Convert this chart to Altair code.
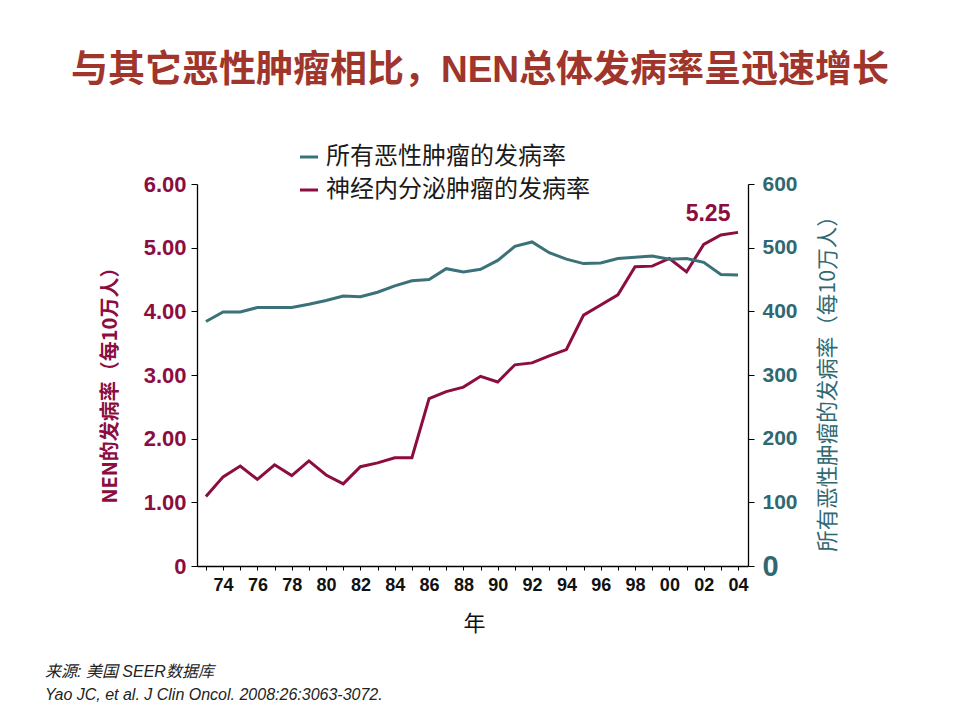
import altair as alt
import pandas as pd

years = list(range(1973, 2005))
nen_rate = [1.09, 1.40, 1.57, 1.36, 1.59, 1.42, 1.65, 1.43, 1.29, 1.56, 1.62, 1.70, 1.70,
            2.63, 2.74, 2.81, 2.98, 2.89, 3.16, 3.19, 3.30, 3.40, 3.94, 4.10, 4.26, 4.70,
            4.71, 4.83, 4.62, 5.05, 5.20, 5.24]
all_rate = [384, 399, 399, 406, 406, 406, 411, 417, 424, 423, 430, 440, 448, 450, 467, 462,
            466, 480, 502, 509, 492, 482, 475, 476, 483, 485, 487, 482, 483, 477, 458, 457]
series_names = ["所有恶性肿瘤的发病率", "神经内分泌肿瘤的发病率"]
annotation = ["5.25"]
title_text = "与其它恶性肿瘤相比，NEN总体发病率呈迅速增长"
x_title = "年"
left_title = "NEN的发病率（每10万人）"
right_title = "所有恶性肿瘤的发病率（每10万人）"
footnotes = ["来源: 美国 SEER数据库", "Yao JC, et al. J Clin Oncol. 2008:26:3063-3072."]

RED = "#8C0D3F"
TEAL = "#3B7279"
TEAL_LBL = "#2F6871"
TITLE_C = "#A0352B"
FONT = "Liberation Sans, Noto Sans CJK SC, sans-serif"
CJK = "Noto Sans CJK SC, Liberation Sans, sans-serif"

df = pd.DataFrame({"year": years, "nen": nen_rate, "all": all_rate})
df_last = pd.DataFrame({"year": [years[-1]], "nen": [nen_rate[-1]], "label": annotation})

xscale = alt.Scale(domain=[1972.48, 2004.58], nice=False, zero=False)
xaxis = alt.Axis(
    values=years,
    labelExpr="datum.value % 2 == 0 ? substring(toString(datum.value), 2, 4) : ''",
    title=x_title, titleFont=CJK, titleFontSize=22, titleFontWeight="normal", titleColor="#111",
    titleX=277, titleY=57, titleBaseline="middle", titleAlign="center",
    labelFont=FONT, labelFontSize=18, labelFontWeight="bold", labelColor="#111",
    labelPadding=6, tickSize=4, tickColor="#000", domainColor="#000", domainWidth=1.3,
    grid=False, labelOverlap=False, labelFlush=False,
)

red_line = alt.Chart(df).mark_line(color=RED, strokeWidth=3).encode(
    x=alt.X("year:Q", scale=xscale, axis=xaxis),
    y=alt.Y("nen:Q", scale=alt.Scale(domain=[0, 6], nice=False),
            axis=alt.Axis(
                orient="left", values=[0, 1, 2, 3, 4, 5, 6],
                labelExpr="datum.value == 0 ? '0' : format(datum.value, '.2f')",
                labelFont=FONT, labelFontSize=22, labelFontWeight="bold", labelColor=RED,
                labelPadding=5, tickSize=6, tickColor="#000", domainColor="#000", domainWidth=1.3,
                grid=False,
                title=left_title, titleFont=CJK, titleFontSize=20, titleFontWeight="bold",
                titleColor=RED, titleAngle=270, titleX=-87, titleY=196,
                titleAlign="center", titleBaseline="middle",
            )),
)

red_label = alt.Chart(df_last).mark_text(
    color=RED, font=FONT, fontSize=23, fontWeight="bold", dx=-30, dy=-18
).encode(
    x=alt.X("year:Q", scale=xscale, axis=xaxis),
    y=alt.Y("nen:Q", scale=alt.Scale(domain=[0, 6], nice=False)),
    text="label:N",
)

teal_line = alt.Chart(df).mark_line(color=TEAL, strokeWidth=3).encode(
    x=alt.X("year:Q", scale=xscale, axis=xaxis),
    y=alt.Y("all:Q", scale=alt.Scale(domain=[0, 600], nice=False),
            axis=alt.Axis(
                orient="right", values=[0, 100, 200, 300, 400, 500, 600],
                labelFont=FONT,
                labelFontSize={"condition": {"test": "datum.value == 0", "value": 29}, "value": 21},
                labelFontWeight="bold", labelColor=TEAL_LBL,
                labelPadding=8, tickSize=6, tickColor="#000", domainColor="#000", domainWidth=1.3,
                grid=False,
                title=right_title, titleFont=CJK, titleFontSize=21.5, titleFontWeight="normal",
                titleColor=TEAL_LBL, titleAngle=270, titleX=80, titleY=194,
                titleAlign="center", titleBaseline="middle",
            )),
)

left_layer = alt.layer(red_line, red_label)
chart_core = alt.layer(left_layer, teal_line).resolve_scale(y="independent")

one = pd.DataFrame({"t": [title_text]})
title_mark = alt.Chart(one).mark_text(
    color=TITLE_C, font=FONT, fontSize=37, fontWeight="bold", align="center", baseline="middle"
).encode(x=alt.value(283), y=alt.value(-113), text="t:N")

leg_df = pd.DataFrame({"name": series_names, "c": [TEAL, RED], "yy": [-27, 6]})
leg_rules = alt.Chart(leg_df).mark_rule(strokeWidth=3).encode(
    x=alt.value(103), x2=alt.value(121), y=alt.Y("yy:Q", scale=None),
    color=alt.Color("c:N", scale=None),
)
leg_text = alt.Chart(leg_df).mark_text(
    font=CJK, fontSize=24, color="#1a1a1a", align="left", baseline="middle"
).encode(x=alt.value(129), y=alt.Y("yy:Q", scale=None), text="name:N")

foot_df = pd.DataFrame({"t": footnotes, "yy": [488, 511]})
foot_text = alt.Chart(foot_df).mark_text(
    font=FONT, fontSize=16, fontStyle="italic", color="#222", align="left", baseline="middle"
).encode(x=alt.value(-152), y=alt.Y("yy:Q", scale=None), text="t:N")

chart = alt.layer(chart_core, title_mark, leg_rules, leg_text, foot_text).properties(
    width=551, height=382,
    autosize=alt.AutoSizeParams(type="none"),
    padding={"left": 189, "top": 176, "right": 200, "bottom": 140},
    background="white",
).configure_view(stroke=None)

chart.save("out.html", embed_options={"renderer": "svg", "actions": False})
